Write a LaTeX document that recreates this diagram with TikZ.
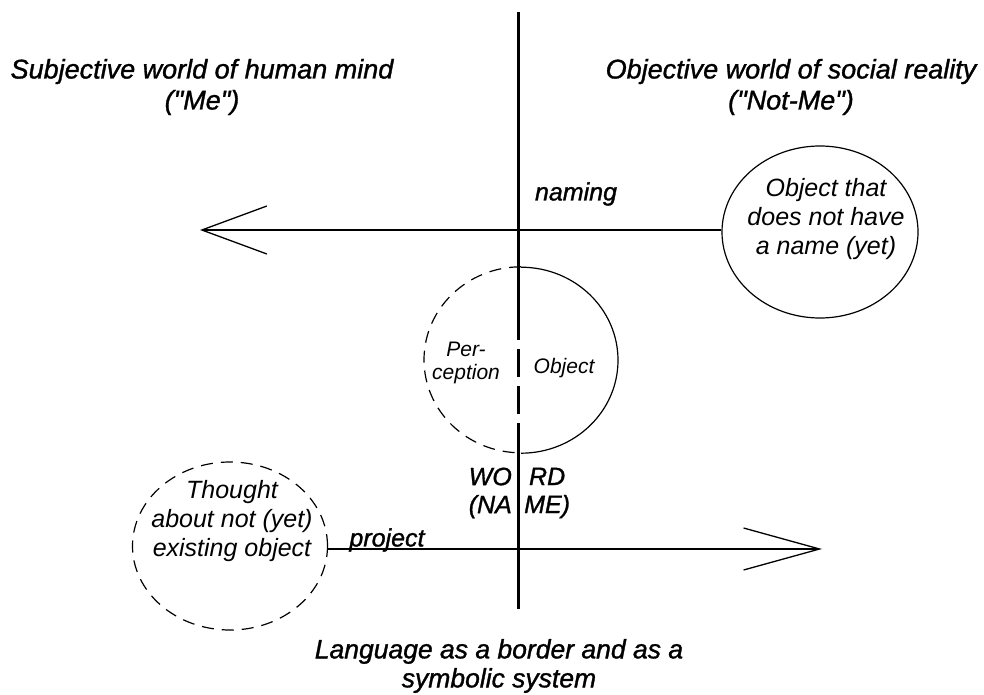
\documentclass[tikz,border=0pt]{standalone}
\usepackage{fontspec}
\setmainfont{Liberation Sans}
\newfontfamily\heavysans[FakeBold=1.2]{Liberation Sans}
\usetikzlibrary{arrows.meta,shapes.geometric}

\begin{document}
\begin{tikzpicture}[x=1pt, y=-1pt,
    lbl/.style={font=\heavysans\itshape\fontsize{27}{31}\selectfont, align=center, inner sep=0pt},
    midlbl/.style={font=\heavysans\itshape\fontsize{25}{28}\selectfont, align=center, inner sep=0pt},
    inlbl/.style={font=\itshape\fontsize{25}{29}\selectfont, align=center, inner sep=0pt},
    smalllbl/.style={font=\itshape\fontsize{21}{23}\selectfont, align=center, inner sep=0pt},
    blob/.style={ellipse, inner sep=0pt},
    thinline/.style={line width=1.2pt},
    arr/.style={line width=1.3pt, -{Straight Barb[length=#1]}}]

  \useasboundingbox (0,0) rectangle (984,695);

  % the border between the two worlds
  \coordinate (topend) at (518,12);
  \coordinate (dashtop) at (518,312);
  \coordinate (dashbot) at (518,450);
  \coordinate (botend) at (518,609);
  \draw[line width=3pt] (topend) -- (dashtop);
  \draw[line width=3pt, dash pattern=on 28pt off 9pt] (dashtop) -- (dashbot);
  \draw[line width=3pt] (dashbot) -- (botend);

  \node[lbl] (subj) at (202,87) {Subjective world of human mind\\("Me")};
  \node[lbl] (obj) at (791,87) {Objective world of social reality\\("Not-Me")};
  \node[lbl, font=\heavysans\itshape\fontsize{26.5}{29}\selectfont] (lang) at (499,666) {Language as a border and as a\\symbolic system};

  % object with no name yet
  \node[blob, draw, thinline, minimum width=196pt, minimum height=172pt] (thing) at (820,232) {};
  \node[inlbl] (thingtxt) at (826,219) {Object that\\does not have\\a name (yet)};

  % perception / object
  \node[blob, minimum width=194pt, minimum height=186pt] (percept) at (521,360) {};
  \draw[thinline, dash pattern=on 12pt off 8pt] (percept.north)
    arc[start angle=90, end angle=270, x radius=97pt, y radius=93pt];
  \draw[thinline] (percept.south)
    arc[start angle=-90, end angle=90, x radius=97pt, y radius=93pt];
  \node[smalllbl] (per) at (466,363) {Per-\\ception};
  \node[smalllbl] (objin) at (564,368) {Object};

  % thought about a new object
  \node[blob, draw, thinline, dash pattern=on 12pt off 8pt,
        minimum width=195pt, minimum height=168pt] (thought) at (230,546) {};
  \node[inlbl] (thoughttxt) at (232,521) {Thought\\about not (yet)\\existing object};

  \node[midlbl, anchor=east] (wordl) at (512,493) {WO\\(NA};
  \node[midlbl, anchor=west] (wordr) at (524,493) {RD\\ME)};

  % naming and projecting
  \coordinate (namtip) at (200,230);
  \coordinate (projtip) at (822,549);
  \draw[arr={65pt, width=48pt}] (thing.west |- namtip) -- (namtip);
  \draw[arr={76pt, width=42pt}] (thought.east |- projtip) -- (projtip);
  \node[midlbl] (naming) at (576,194) {naming};
  \node[midlbl] (project) at (387,540) {project};
\end{tikzpicture}
\end{document}
